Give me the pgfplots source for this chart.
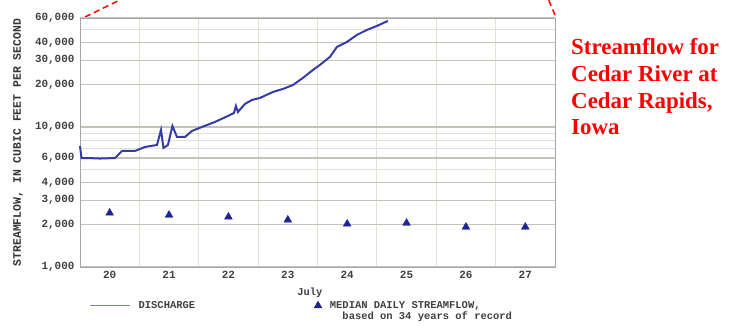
\documentclass[border=0pt]{standalone}
\usepackage{pgfplots}
\pgfplotsset{compat=1.18}
\usepackage{fontspec}
\setmainfont{Liberation Serif}
\setmonofont{Liberation Mono}
\definecolor{flow}{RGB}{55,60,165}
\definecolor{flowleg}{RGB}{125,125,205}
\definecolor{med}{RGB}{30,35,150}
\definecolor{gridmaj}{RGB}{195,195,185}
\definecolor{gridmin}{RGB}{225,225,218}
\definecolor{titlered}{RGB}{255,0,0}
\pgfplotsset{longline/.style={legend image code/.code={\draw[line width=1.3bp, color=flowleg] (0bp,0bp) -- (40bp,0bp);}}}
\begin{document}
\begin{tikzpicture}
\path[use as bounding box] (0,0) rectangle (729bp,326bp);
\begin{scope}
\clip (0,0) rectangle (729bp,326bp);
\draw[titlered, line width=1.5bp, dash pattern=on 6bp off 4bp] (85bp,309bp) -- (128bp,330bp);
\draw[titlered, line width=1.5bp, dash pattern=on 6bp off 4bp] (555bp,311bp) -- (547bp,330bp);
\end{scope}
\begin{axis}[at={(80bp,59bp)}, anchor=south west, scale only axis,
  width=475bp, height=249bp,
  ymode=log, xmin=20, xmax=28, ymin=1000, ymax=60000,
  axis line style={draw=gray!70, line width=0.8bp},
  xtick={20.5,21.5,22.5,23.5,24.5,25.5,26.5,27.5},
  xticklabels={20,21,22,23,24,25,26,27},
  minor xtick={21,22,23,24,25,26,27},
  ytick={1000,2000,3000,4000,6000,10000,20000,30000,40000,60000},
  yticklabels={{1,000},{2,000},{3,000},{4,000},{6,000},{10,000},{20,000},{30,000},{40,000},{60,000}},
  minor ytick={5000,7000,8000,9000,50000},
  major tick length=0pt, minor tick length=0pt,
  xmajorgrids=false, xminorgrids=true, ymajorgrids=true, yminorgrids=true,
  minor x grid style={draw=gridmin, line width=0.9bp},
  major y grid style={draw=gridmaj, line width=1.1bp},
  minor y grid style={draw=gridmin, line width=1bp},
  tick label style={font=\fontsize{11}{12}\selectfont\ttfamily\bfseries, text=black!75},
  yticklabel style={xshift=-2bp},
  xticklabel style={yshift=-1bp},
  xlabel={July},
  xlabel style={at={(axis description cs:0.484,0)}, anchor=north, yshift=-17bp,
    font=\fontsize{10.5}{11}\selectfont\ttfamily\bfseries, text=black!75},
  ylabel={STREAMFLOW, IN CUBIC FEET PER SECOND},
  ylabel style={at={(axis description cs:-0.1305,0.5)}, anchor=center, rotate=0,
    font=\fontsize{11.5}{12}\selectfont\ttfamily\bfseries, text=black!80},
  legend columns=2,
  legend style={at={(axis description cs:0.013,-0.12)}, anchor=north west, draw=none, fill=none,
    font=\fontsize{10.5}{11}\selectfont\ttfamily\bfseries, text=black!75,
    /tikz/every even column/.append style={column sep=117bp}},
  legend cell align=left,
  clip=false,
]
\addplot[flow, line width=2bp, longline] coordinates {
(20.000,7300) (20.025,6000) (20.135,6000) (20.337,5950) (20.589,6000)
(20.707,6740) (20.926,6740) (21.094,7200) (21.296,7435) (21.364,9520)
(21.406,7080) (21.481,7435) (21.557,10170) (21.633,8483) (21.768,8483)
(21.886,9365) (22.054,10000) (22.273,10857) (22.492,11985) (22.593,12589)
(22.626,14125) (22.660,12800) (22.778,14600) (22.896,15590) (23.030,16110)
(23.249,17780) (23.418,18680) (23.586,19950) (23.754,22390) (23.923,25540)
(24.040,27730) (24.209,31620) (24.327,37280) (24.495,40470) (24.663,45400)
(24.832,49300) (25.000,52640) (25.185,57170)
};
\addlegendentry{\hspace{6bp}DISCHARGE}
\addplot[only marks, mark=triangle*, mark size=4.5bp, color=med] coordinates {
(20.5,2430) (21.5,2350) (22.5,2280) (23.5,2170) (24.5,2030) (25.5,2060) (26.5,1930) (27.5,1930)
};
\addlegendentry{\begin{tabular}[t]{@{}l@{}}\hspace{6bp}MEDIAN DAILY STREAMFLOW,\\\hspace{6bp}\hspace{1.2em}based on 34 years of record\end{tabular}}
\end{axis}
\node[anchor=base west, text=titlered, font=\fontsize{23}{26}\selectfont\bfseries, inner sep=0pt] at (571bp,271bp) {Streamflow for};
\node[anchor=base west, text=titlered, font=\fontsize{23}{26}\selectfont\bfseries, inner sep=0pt] at (571bp,244.3bp) {Cedar River at};
\node[anchor=base west, text=titlered, font=\fontsize{23}{26}\selectfont\bfseries, inner sep=0pt] at (571bp,217.6bp) {Cedar Rapids,};
\node[anchor=base west, text=titlered, font=\fontsize{23}{26}\selectfont\bfseries, inner sep=0pt] at (571bp,191bp) {Iowa};
\end{tikzpicture}
\end{document}
